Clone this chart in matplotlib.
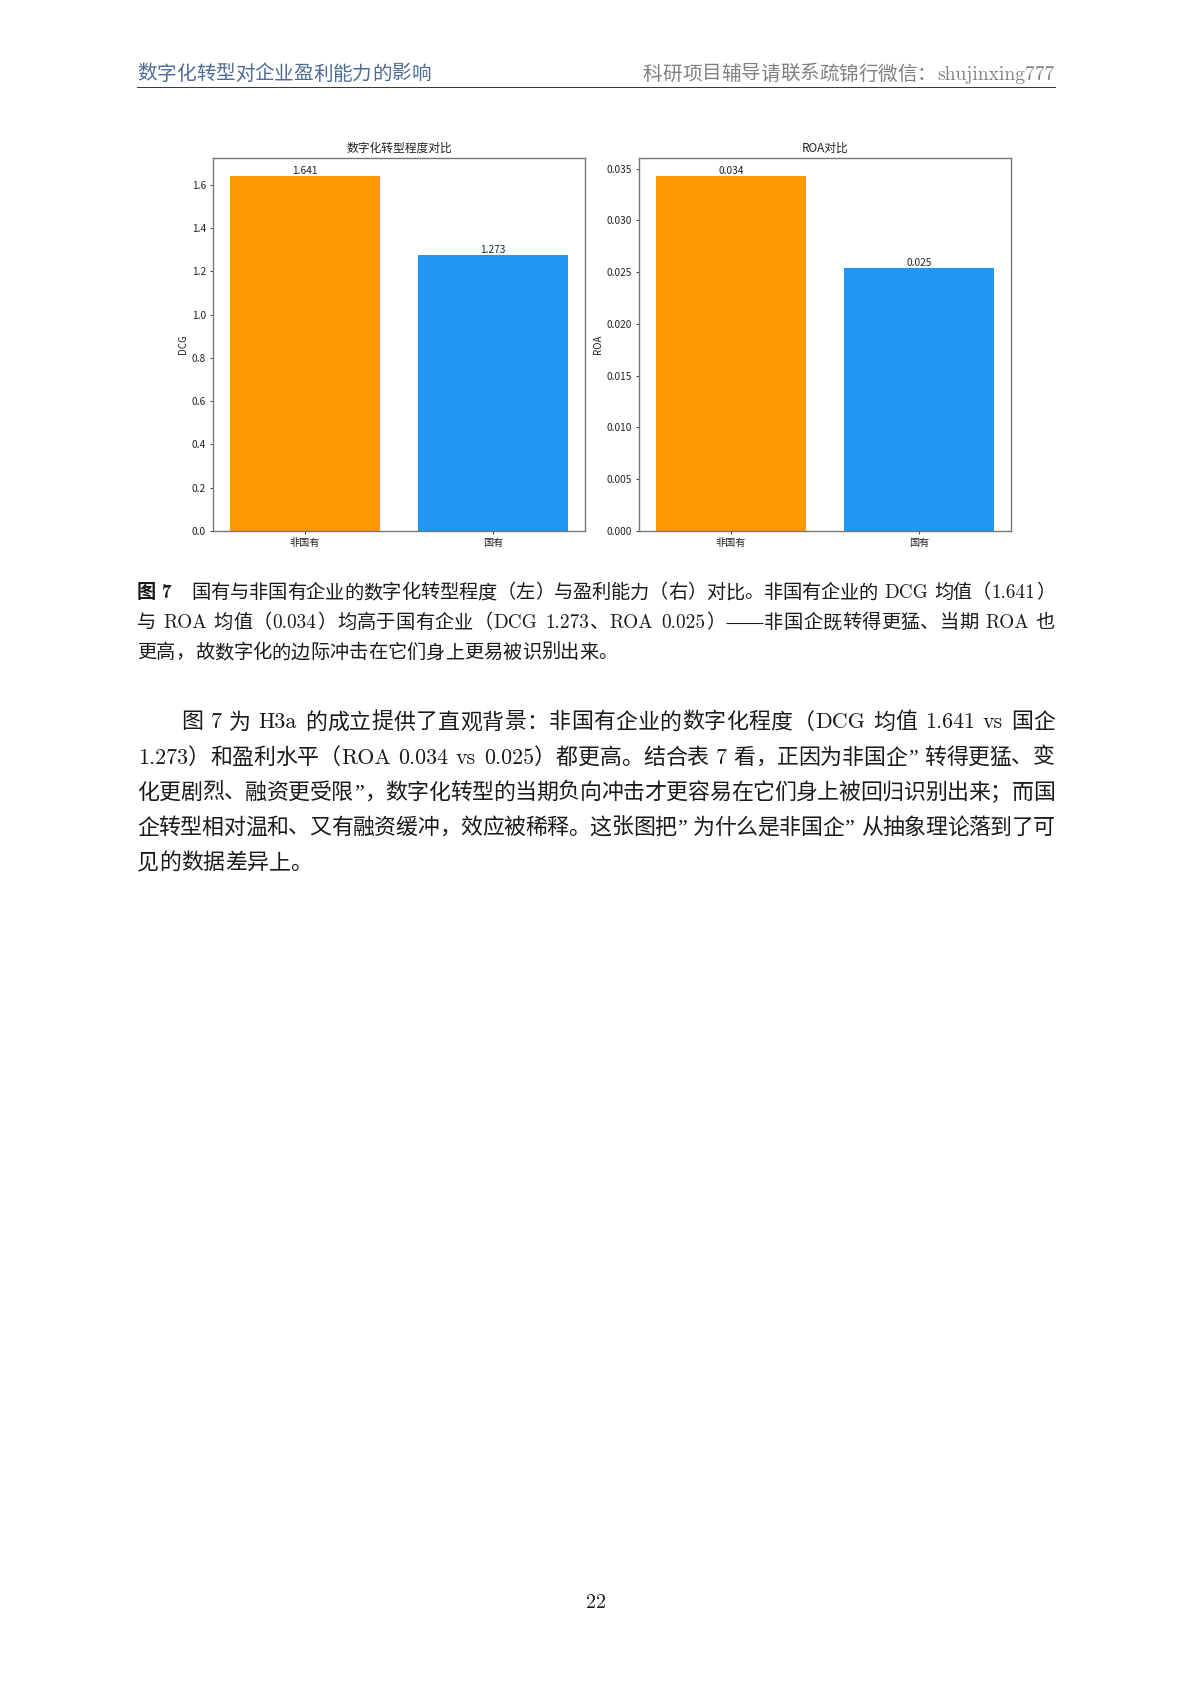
import matplotlib
matplotlib.use('Agg')
import matplotlib.pyplot as plt
from matplotlib import font_manager as fm

W, H = 1191, 1684

# ---------------- data ----------------
groups = ['非国有', '国有']
dcg_means = [1.641, 1.273]
roa_means = [0.0343, 0.0254]
bar_colors = ['#FF9800', '#2196F3']
panel_titles = ['数字化转型程度对比', 'ROA对比']
panel_ylabels = ['DCG', 'ROA']

header_left = '数字化转型对企业盈利能力的影响'
header_right = '科研项目辅导请联系疏锦行微信：shujinxing777'
caption_lines = [
    '图 7\u2003国有与非国有企业的数字化转型程度（左）与盈利能力（右）对比。非国有企业的 DCG 均值（1.641）',
    '与 ROA 均值（0.034）均高于国有企业（DCG 1.273、ROA 0.025）——非国企既转得更猛、当期 ROA 也',
    '更高，故数字化的边际冲击在它们身上更易被识别出来。',
]
body_lines = [
    '图 7 为 H3a 的成立提供了直观背景：非国有企业的数字化程度（DCG 均值 1.641 vs 国企',
    '1.273）和盈利水平（ROA 0.034 vs 0.025）都更高。结合表 7 看，正因为非国企” 转得更猛、变',
    '化更剧烈、融资更受限”，数字化转型的当期负向冲击才更容易在它们身上被回归识别出来；而国',
    '企转型相对温和、又有融资缓冲，效应被稀释。这张图把” 为什么是非国企” 从抽象理论落到了可',
    '见的数据差异上。',
]
page_number = '22'

# ---------------- fonts ----------------
names = {f.name for f in fm.fontManager.ttflist}
MONO = 'Noto Sans Mono CJK SC' if 'Noto Sans Mono CJK SC' in names else 'Noto Sans CJK SC'
CJK = ['Noto Sans CJK SC']
LAT = [f for f in ['cmr10', 'Liberation Serif', 'DejaVu Serif'] if f in names]
LATB = [f for f in ['cmb10', 'Liberation Serif', 'DejaVu Serif'] if f in names]

plt.rcParams['font.family'] = [MONO, 'Noto Sans CJK SC', 'DejaVu Sans']
plt.rcParams['axes.unicode_minus'] = False

fig = plt.figure(figsize=(W / 100, H / 100), dpi=100)
fig.patch.set_facecolor('white')

page = fig.add_axes([0, 0, 1, 1])
page.set_xlim(0, W)
page.set_ylim(H, 0)
page.axis('off')

renderer = fig.canvas.get_renderer()


def is_cjk(c):
    o = ord(c)
    return (0x2E80 <= o <= 0x9FFF) or (0x3000 <= o <= 0x303F) or (0xFF00 <= o <= 0xFFEF)


def measure(s, fs, fam, weight):
    t = page.text(0, 0, s, fontsize=fs, family=fam, fontweight=weight)
    w = t.get_window_extent(renderer).width
    t.remove()
    return w


def draw_line(s, x0, yb, fs, color, x1=None, bold_n=0, align='left'):
    em = fs / 0.72
    toks = []
    buf = ''
    bstart = 0
    for i, c in enumerate(s):
        if c in (' ', '\u2003', '\u2014') or is_cjk(c):
            if buf:
                toks.append(('lat', buf, bstart < bold_n))
                buf = ''
            if c == ' ':
                toks.append(('sp', c, False))
            elif c == '\u2003':
                toks.append(('quad', c, False))
            elif c == '\u2014':
                if toks and toks[-1][0] == 'dash':
                    toks[-1] = ('dash', toks[-1][1] + c, False)
                else:
                    toks.append(('dash', c, False))
            else:
                toks.append(('cjk', c, i < bold_n))
        else:
            if not buf:
                bstart = i
            buf += c
    if buf:
        toks.append(('lat', buf, bstart < bold_n))
    widths = []
    for kind, txt, b in toks:
        if kind == 'cjk':
            w = em
        elif kind == 'sp':
            w = 0.3 * em
        elif kind == 'quad':
            w = em
        elif kind == 'dash':
            w = em * len(txt)
        else:
            w = measure(txt, fs, LATB if b else LAT, 'bold' if b else 'normal') + 0.06 * em
        widths.append(w)
    natural = sum(widths)
    gap = 0.0
    if x1 is not None and len(toks) > 1:
        gap = (x1 - x0 - natural) / (len(toks) - 1)
    x = x0 - natural if align == 'right' else x0
    for (kind, txt, b), w in zip(toks, widths):
        if kind == 'cjk':
            page.text(x, yb, txt, fontsize=fs, family=CJK,
                      fontweight='bold' if b else 'light', color=color,
                      ha='left', va='baseline')
        elif kind == 'lat':
            page.text(x + 0.03 * em, yb, txt, fontsize=fs,
                      family=LATB if b else LAT, fontweight='bold' if b else 'normal',
                      color=color, ha='left', va='baseline')
        elif kind == 'dash':
            page.plot([x + 0.05 * em, x + w - 0.05 * em], [yb - 0.3 * em] * 2,
                      color=color, lw=0.8, solid_capstyle='butt')
        x += w + gap


LEFT, RIGHT = 137, 1055

# ---------------- header ----------------
draw_line(header_left, LEFT, 79.5, 14.1, '#4C6B96')
draw_line(header_right, RIGHT, 79.5, 14.1, '#808080', align='right')
page.plot([LEFT, RIGHT], [87, 87], color='#333333', lw=0.7)

# ---------------- charts ----------------
rects = [[213 / W, 1 - 531 / H, 372 / W, 373 / H],
         [639 / W, 1 - 531 / H, 372 / W, 373 / H]]
for rect, vals, title, ylabel in zip(rects, [dcg_means, roa_means], panel_titles, panel_ylabels):
    ax = fig.add_axes(rect)
    ax.bar(groups, vals, color=bar_colors, width=0.8)
    for i, v in enumerate(vals):
        ax.text(i, v, f'{v:.3f}', ha='center', va='bottom', fontsize=7.3, color='#222222')
    ax.set_title(title, fontsize=8.5, pad=4.2, color='#222222', fontweight='medium')
    ax.set_ylabel(ylabel, fontsize=7.0, labelpad=2.8, color='#222222')
    ax.tick_params(labelsize=7.3, length=2.5, width=0.6, pad=2.5, colors='#222222')
    for sp in ax.spines.values():
        sp.set_linewidth(1.0)
        sp.set_color('#777777')

# ---------------- caption ----------------
cap_fs = 13.85
for k, line in enumerate(caption_lines):
    yb = 598.3 + 30.0 * k
    justify = RIGHT if k < len(caption_lines) - 1 else None
    draw_line(line, LEFT, yb, cap_fs, '#1a1a1a', x1=justify, bold_n=3 if k == 0 else 0)

# ---------------- body ----------------
body_fs = 15.8
body_em = body_fs / 0.72
for k, line in enumerate(body_lines):
    yb = 728.5 + 35.1 * k
    x0 = LEFT + 2 * body_em if k == 0 else LEFT
    justify = RIGHT if k < len(body_lines) - 1 else None
    draw_line(line, x0, yb, body_fs, '#1a1a1a', x1=justify)

# ---------------- page number ----------------
page.text((LEFT + RIGHT) / 2, 1608, page_number, fontsize=14.4, family=LAT,
          ha='center', va='baseline', color='#1a1a1a')

fig.savefig('out.png', dpi=100, facecolor='white')
